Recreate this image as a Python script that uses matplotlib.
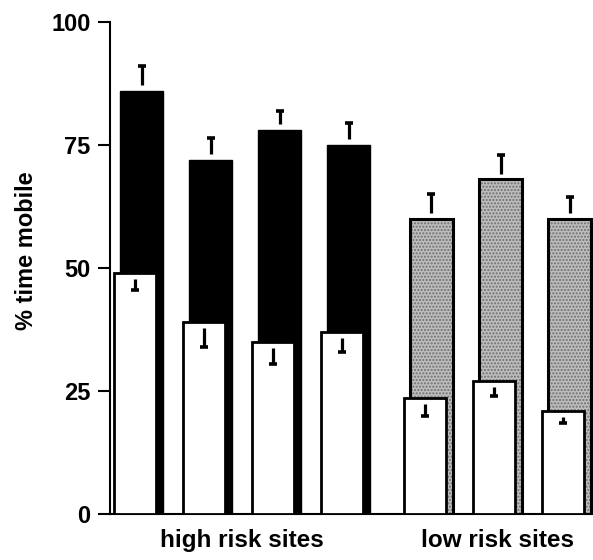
import matplotlib.pyplot as plt
import numpy as np

plt.rcParams['font.family'] = ['Liberation Sans', 'DejaVu Sans']
plt.rcParams['font.weight'] = 'bold'

# site positions (high risk 0-3, low risk further right)
high_pos = np.array([0, 1, 2, 3])
low_pos = np.array([4.2, 5.2, 6.2])

# tall bars and their upward errors
high_tall = [86, 72, 78, 75]
high_tall_err = [5, 4.5, 4, 4.5]
low_tall = [60, 68, 60]
low_tall_err = [5, 5, 4.5]

# short white bars and their downward errors
high_short = [49, 39, 35, 37]
high_short_err = [3.5, 5, 4.5, 4]
low_short = [23.5, 27, 21]
low_short_err = [3.5, 3, 2.5]

group_labels = ['high risk sites', 'low risk sites']
yticks = [0, 25, 50, 75, 100]

fig = plt.figure(figsize=(5.93, 5.6), dpi=100)
ax = fig.add_axes([0.1855, 0.0821, 0.8145, 0.8786])

w_tall = 0.63
w_short = 0.61
off = -0.1
gap = 1.2  # white space between bar top and error line


def one_sided_err(x, vals, errs, sign, z):
    # single-sided error bar: line from just off the bar top, cap at the end
    vals = np.asarray(vals, float)
    errs = np.asarray(errs, float)
    start = vals + sign * gap
    end = vals + sign * errs
    ax.vlines(x, start, end, colors='black', linewidth=2.3, zorder=z)
    ax.plot(x, end, linestyle='none', marker='_', markersize=6,
            markeredgewidth=2.6, color='black', zorder=z)


# high risk: black bars
ax.bar(high_pos, high_tall, width=w_tall, color='black', edgecolor='black', zorder=2)
one_sided_err(high_pos, high_tall, high_tall_err, 1, 2)

# low risk: stippled grey bars
ax.bar(low_pos, low_tall, width=w_tall, color='#bdbdbd', edgecolor='#6e6e6e',
       hatch='.....', linewidth=0, zorder=2)
ax.bar(low_pos, low_tall, width=w_tall, facecolor='none', edgecolor='black',
       linewidth=2.2, zorder=2.1)
one_sided_err(low_pos, low_tall, low_tall_err, 1, 2)

# white bars in front
short_pos = np.concatenate([high_pos, low_pos]) + off
short_vals = high_short + low_short
short_err = high_short_err + low_short_err
ax.bar(short_pos, short_vals, width=w_short, color='white', edgecolor='black',
       linewidth=2, zorder=3)
one_sided_err(short_pos, short_vals, short_err, -1, 4)

ax.set_xlim(-0.457, 6.54)
ax.set_ylim(0, 100)
ax.set_yticks(yticks)
ax.set_xticks([1.5 + off / 2, 5.2 + off / 2])
ax.set_xticklabels(group_labels, fontsize=17.5, fontweight='bold')
ax.tick_params(axis='x', length=0, pad=11)
ax.tick_params(axis='y', direction='out', length=9, width=1.5, pad=5, labelsize=17)
for lab in ax.get_yticklabels():
    lab.set_fontweight('bold')

ax.spines['top'].set_visible(False)
ax.spines['right'].set_visible(False)
ax.spines['left'].set_linewidth(1.5)
ax.spines['bottom'].set_linewidth(1.5)

ax.set_ylabel('% time mobile', fontsize=17, fontweight='bold', labelpad=14)
ax.yaxis.set_label_coords(-0.15, 0.535)

fig.savefig('out.png', dpi=100)
